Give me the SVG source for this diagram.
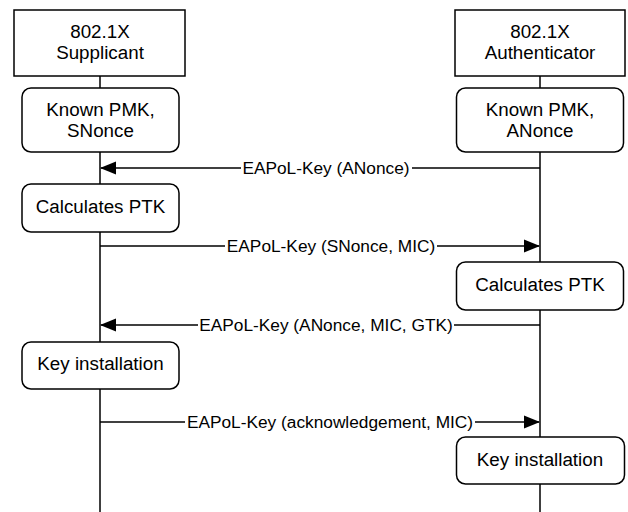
<svg xmlns="http://www.w3.org/2000/svg" width="628" height="512" viewBox="0 0 628 512">
<defs>
<style>
.box{fill:#fff;stroke:#000;stroke-width:1.5}
.ln{fill:none;stroke:#000;stroke-width:1.5}
.t{font-family:"Liberation Sans",Arial,sans-serif;font-size:18.8px;fill:#000;text-anchor:middle}
.lb{font-family:"Liberation Sans",Arial,sans-serif;font-size:17.3px;fill:#000;text-anchor:middle}
.bg{fill:#fff}
</style>
</defs>
<g id="lifelines">
<line class="ln" x1="100" y1="76" x2="100" y2="512"/>
<line class="ln" x1="540" y1="76" x2="540" y2="512"/>
</g>
<g id="connectors">
<g id="msg1">
<line class="ln" x1="540" y1="168" x2="101" y2="168"/>
<path d="M100,168 L116,161.5 L116,174.5 Z" fill="#000"/>
<rect class="bg" x="241" y="158" width="171" height="20"/>
<text class="lb" x="326" y="174">EAPoL-Key (ANonce)</text>
</g>
<g id="msg2">
<line class="ln" x1="100" y1="246" x2="539" y2="246"/>
<path d="M540,246 L524,239.5 L524,252.5 Z" fill="#000"/>
<rect class="bg" x="225" y="236" width="212" height="20"/>
<text class="lb" x="331" y="252">EAPoL-Key (SNonce, MIC)</text>
</g>
<g id="msg3">
<line class="ln" x1="540" y1="325" x2="101" y2="325"/>
<path d="M100,325 L116,318.5 L116,331.5 Z" fill="#000"/>
<rect class="bg" x="198" y="315" width="256" height="20"/>
<text class="lb" x="326" y="331">EAPoL-Key (ANonce, MIC, GTK)</text>
</g>
<g id="msg4">
<line class="ln" x1="100" y1="422" x2="539" y2="422"/>
<path d="M540,422 L524,415.5 L524,428.5 Z" fill="#000"/>
<rect class="bg" x="185" y="412" width="290" height="20"/>
<text class="lb" x="330" y="428">EAPoL-Key (acknowledgement, MIC)</text>
</g>
</g>
<g id="supplicant">
<rect class="box" x="14" y="10" width="171" height="66"/>
<text class="t" x="100" y="38">802.1X</text>
<text class="t" x="100" y="59">Supplicant</text>
</g>
<g id="authenticator">
<rect class="box" x="455" y="10" width="170" height="66"/>
<text class="t" x="540" y="38">802.1X</text>
<text class="t" x="540" y="59">Authenticator</text>
</g>
<g id="s_known">
<rect class="box" x="22" y="88" width="157" height="64" rx="9"/>
<text class="t" x="100.5" y="115.5">Known PMK,</text>
<text class="t" x="100.5" y="136.5">SNonce</text>
</g>
<g id="a_known">
<rect class="box" x="456.5" y="88" width="167" height="64" rx="9"/>
<text class="t" x="540" y="115.5">Known PMK,</text>
<text class="t" x="540" y="136.5">ANonce</text>
</g>
<g id="s_calc">
<rect class="box" x="22" y="184" width="157" height="48" rx="9"/>
<text class="t" x="100.5" y="212.5">Calculates PTK</text>
</g>
<g id="a_calc">
<rect class="box" x="456.5" y="262" width="167" height="48" rx="9"/>
<text class="t" x="540" y="290.5">Calculates PTK</text>
</g>
<g id="s_keyinst">
<rect class="box" x="22" y="342" width="157" height="47" rx="9"/>
<text class="t" x="100.5" y="370">Key installation</text>
</g>
<g id="a_keyinst">
<rect class="box" x="456.5" y="437" width="168" height="47" rx="9"/>
<text class="t" x="540" y="466">Key installation</text>
</g>
</svg>
